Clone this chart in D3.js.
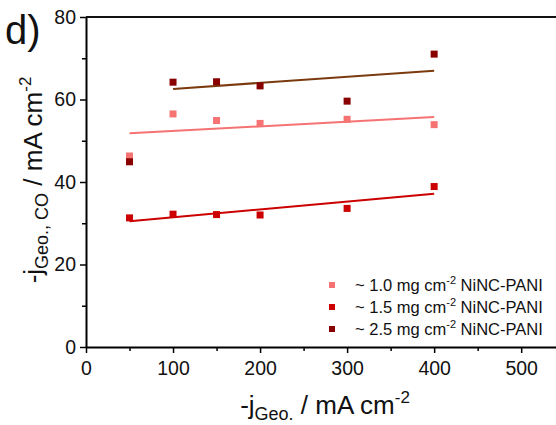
<!DOCTYPE html>
<html>
<head>
<meta charset="utf-8">
<script src="https://cdn.jsdelivr.net/npm/d3@7"></script>
<style>
  body { margin: 0; background: #fff; }
  text { font-family: "Liberation Sans", Arial, sans-serif; }
</style>
</head>
<body>
<div id="graph"></div>
<script>
const width = 556;
const height = 425;

// data
const currents = [50, 100, 150, 200, 300, 400];
const load10 = [46.3, 56.5, 54.9, 54.2, 55.2, 53.9];
const load15 = [31.3, 32.2, 32.1, 32.0, 33.6, 38.9];
const load25 = [44.9, 64.2, 64.3, 63.3, 59.6, 71.0];
const labels = ["~ 1.0 mg cm", "~ 1.5 mg cm", "~ 2.5 mg cm"];
const xTicks = [0, 100, 200, 300, 400, 500];
const yTicks = [0, 20, 40, 60, 80];

const series = [
  {name: labels[0], values: load10, color: "#f57373", fit: "#f57373", fitFrom: 0},
  {name: labels[1], values: load15, color: "#cc0000", fit: "#cc0000", fitFrom: 0},
  {name: labels[2], values: load25, color: "#880000", fit: "#7a3a0e", fitFrom: 1}
];

const svg = d3.select("#graph")
  .append("svg")
  .attr("width", width)
  .attr("height", height);

const x = d3.scaleLinear().domain([0, 540]).range([86, 556]);
const y = d3.scaleLinear().domain([0, 80]).range([347, 17]);

// minor ticks
svg.append("g")
  .attr("transform", `translate(0,${y(0)})`)
  .call(d3.axisBottom(x).tickValues([50, 150, 250, 350, 450]).tickSize(4).tickFormat(""))
  .call(g => g.select(".domain").remove())
  .selectAll("line").attr("stroke-width", 1.5);
svg.append("g")
  .attr("transform", `translate(${x(0)},0)`)
  .call(d3.axisLeft(y).tickValues([10, 30, 50, 70]).tickSize(4).tickFormat(""))
  .call(g => g.select(".domain").remove())
  .selectAll("line").attr("stroke-width", 1.5);

const xAxis = svg.append("g")
  .attr("transform", `translate(0,${y(0)})`)
  .call(d3.axisBottom(x).tickValues(xTicks).tickSize(6).tickSizeOuter(0).tickPadding(8));
const yAxis = svg.append("g")
  .attr("transform", `translate(${x(0)},0)`)
  .call(d3.axisLeft(y).tickValues(yTicks).tickSize(6).tickSizeOuter(0).tickPadding(4));

[xAxis, yAxis].forEach(g => {
  g.select(".domain").attr("stroke-width", 2);
  g.selectAll(".tick line").attr("stroke-width", 1.5);
  g.selectAll(".tick text")
    .attr("font-size", 19.5)
    .attr("fill", "#111")
    .style("font-family", "Liberation Sans, Arial, sans-serif");
});

// top frame line
svg.append("line")
  .attr("x1", x(0)).attr("x2", x(540))
  .attr("y1", y(80)).attr("y2", y(80))
  .attr("stroke", "#111").attr("stroke-width", 2);

// linear fits
function fitLine(xs, ys) {
  const mx = d3.mean(xs), my = d3.mean(ys);
  const sxy = d3.sum(xs, (v, i) => (v - mx) * (ys[i] - my));
  const sxx = d3.sum(xs, v => (v - mx) * (v - mx));
  const b = sxy / sxx;
  return v => my + b * (v - mx);
}

const line = d3.line().x(d => x(d[0])).y(d => y(d[1]));

series.forEach(s => {
  const xs = currents.slice(s.fitFrom);
  const ys = s.values.slice(s.fitFrom);
  const f = fitLine(xs, ys);
  const ends = [xs[0], xs[xs.length - 1]];
  svg.append("path")
    .datum(ends.map(v => [v, f(v)]))
    .attr("fill", "none")
    .attr("stroke", s.fit)
    .attr("stroke-width", 2)
    .attr("d", line);
});

const ms = 7;
series.forEach(s => {
  svg.append("g").selectAll("rect")
    .data(currents.map((c, i) => [c, s.values[i]]))
    .join("rect")
    .attr("x", d => x(d[0]) - ms / 2)
    .attr("y", d => y(d[1]) - ms / 2)
    .attr("width", ms)
    .attr("height", ms)
    .attr("fill", s.color);
});

// legend
const legend = svg.append("g");
series.forEach((s, i) => {
  const cy = 285 + i * 22;
  legend.append("rect")
    .attr("x", 329).attr("y", cy - 3)
    .attr("width", 6).attr("height", 6)
    .attr("fill", s.color);
  const t = legend.append("text")
    .attr("x", 355).attr("y", cy + 6)
    .attr("font-size", 16.5)
    .attr("fill", "#111");
  t.append("tspan").text(s.name);
  t.append("tspan").attr("dy", -7).attr("font-size", 11).text("-2");
  t.append("tspan").attr("dy", 7).text(" NiNC-PANI");
});

// axis titles
const xt = svg.append("text")
  .attr("x", 325).attr("y", 414)
  .attr("text-anchor", "middle")
  .attr("font-size", 26)
  .attr("fill", "#111");
xt.append("tspan").text("-j");
xt.append("tspan").attr("dy", 6).attr("font-size", 18).text("Geo.");
xt.append("tspan").attr("dy", -6).text(" / mA cm");
xt.append("tspan").attr("dy", -11).attr("font-size", 17).text("-2");

const yt = svg.append("text")
  .attr("transform", "translate(42,180) rotate(-90)")
  .attr("text-anchor", "middle")
  .attr("font-size", 26)
  .attr("fill", "#111");
yt.append("tspan").text("-j");
yt.append("tspan").attr("dy", 6).attr("font-size", 18).text("Geo., CO");
yt.append("tspan").attr("dy", -6).text(" / mA cm");
yt.append("tspan").attr("dy", -11).attr("font-size", 17).text("-2");

svg.append("text")
  .attr("x", 5).attr("y", 44)
  .attr("font-size", 40)
  .attr("fill", "#111")
  .text("d)");
</script>
</body>
</html>
